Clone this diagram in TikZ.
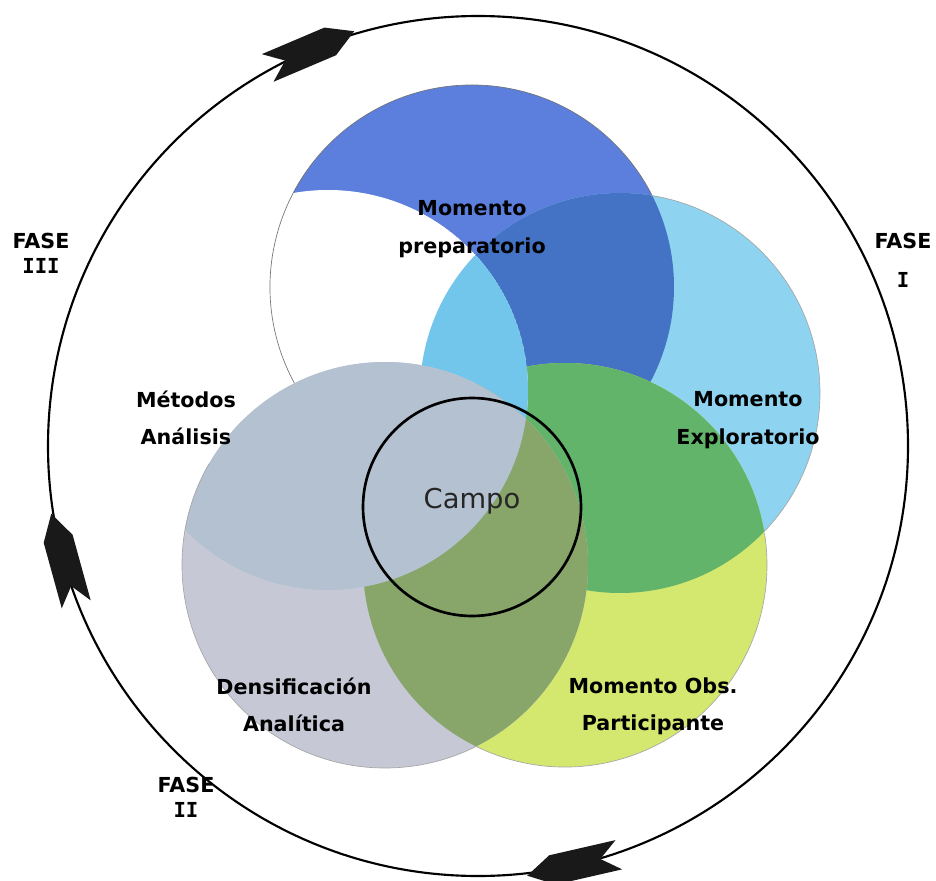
\documentclass[tikz,border=0pt]{standalone}
\usepackage{fontspec}
\setmainfont{DejaVu Sans}
\newfontfamily\romanos{DejaVu Sans Mono}
\usepackage{xcolor}

\definecolor{azulprep}{RGB}{92,127,222}
\definecolor{azuloscuro}{RGB}{68,114,196}
\definecolor{celeste}{RGB}{142,211,240}
\definecolor{celestefondo}{RGB}{115,198,235}
\definecolor{verdeexp}{RGB}{98,180,106}
\definecolor{amarillo}{RGB}{212,232,112}
\definecolor{lavanda}{RGB}{198,200,214}
\definecolor{grisazul}{RGB}{180,193,209}
\definecolor{oliva}{RGB}{136,165,106}

\tikzset{
  momento/.style={font=\fontsize{15.5}{28}\selectfont\bfseries, align=center},
  fase/.style={font=\fontsize{15.5}{19}\selectfont\bfseries, align=center},
  borde/.style={draw=black!55, line width=0.5pt},
  flecha/.style={fill=black!90}
}

\newcommand{\puntaflecha}[3]{%
  \fill[flecha, shift={(#1,#2)}, rotate=#3]
    (48,0) -- (22,-15) -- (-46,-15) -- (-27,0) -- (-46,15) -- (22,15) -- cycle;}

\begin{document}
\begin{tikzpicture}[x=0.75pt,y=-0.75pt]
    \useasboundingbox (0,0) rectangle (936,881);

    % momentos
    \fill[azulprep] (472,287) circle[radius=202];
    \fill[celeste] (620,393) circle[radius=200];
    \begin{scope}
        \clip (620,393) circle[radius=200];
        \fill[azuloscuro] (472,287) circle[radius=202];
    \end{scope}
    \fill[amarillo] (565,565) circle[radius=202];
    \begin{scope}
        \clip (620,393) circle[radius=200];
        \fill[verdeexp] (565,565) circle[radius=202];
    \end{scope}
    \begin{scope}
        \clip (328,390) circle[radius=200];
        \fill[white] (328,390) circle[radius=200];
        \fill[celestefondo] (620,393) circle[radius=200];
    \end{scope}
    \draw[borde] (472,287) ++(-27:202) arc[start angle=-27, end angle=-235, radius=202];
    \fill[lavanda] (385,565) circle[radius=203];
    \begin{scope}
        \clip (385,565) circle[radius=203];
        \fill[oliva] (565,565) circle[radius=202];
        \fill[grisazul] (328,390) circle[radius=200];
    \end{scope}

    % bordes
    \draw[borde, draw=black!35] (620,393) ++(44:200) arc[start angle=44, end angle=-81, radius=200];
    \draw[borde, draw=black!35] (565,565) ++(-244:202) arc[start angle=-244, end angle=-369, radius=202];
    \draw[borde, draw=black!35] (385,565) ++(-150:203) arc[start angle=-150, end angle=-297, radius=203];

    % campo
    \node[circle, draw, line width=2pt, minimum size=163.5pt, inner sep=0pt] (campo) at (472,507) {};
    \node[font=\fontsize{20.5}{24}\selectfont, text=black!85] (campotxt) at (472,501) {Campo};

    \node[momento] (prep) at (472,229) {Momento\\preparatorio};
    \node[momento] (expl) at (748,420) {Momento\\Exploratorio};
    \node[momento] (metodos) at (186,418) {Métodos\\Análisis};
    \node[momento] (dens) at (294,705) {Densificación\\Analítica};
    \node[momento] (obs) at (653,706) {Momento Obs.\\Participante};

    % fases
    \draw[line width=1.6pt] (478,446) circle[radius=430];
    \puntaflecha{310}{50}{23}
    \puntaflecha{64}{560}{105.4}
    \puntaflecha{574}{865}{192.9}

    \node[fase] (fase3) at (41,253) {FASE\\{\romanos III}};
    \node[fase, font=\fontsize{15.5}{29}\selectfont\bfseries] (fase1) at (903,260) {FASE\\{\romanos I}};
    \node[fase] (fase2) at (186,797) {FASE\\{\romanos II}};
\end{tikzpicture}
\end{document}
